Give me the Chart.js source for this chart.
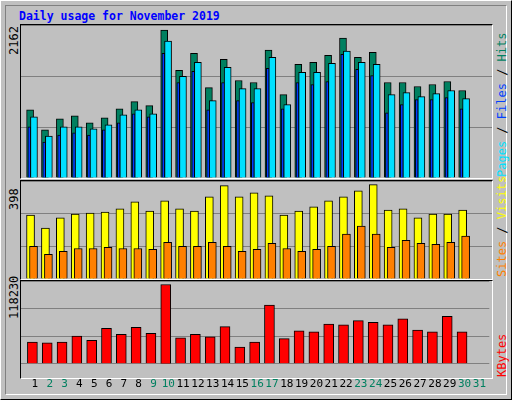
<!DOCTYPE html>
<html><head><meta charset="utf-8">
<script src="https://cdn.jsdelivr.net/npm/chart.js@4"></script>
<style>
body{margin:0;background:#fff}
#wrap{position:relative;width:510px;height:398px;background:#c0c0c0;border-top:1px solid #fff;border-left:1px solid #fff;border-right:1px solid #000;border-bottom:1px solid #000;font-family:"DejaVu Sans Mono",monospace;overflow:hidden}
#inner{position:absolute;left:4px;top:4px;width:500px;height:388px;border-right:1px solid #fff;border-bottom:1px solid #fff;border-top:1px solid #808080;border-left:1px solid #808080}
.panel{position:absolute;left:19px;width:471px;border-top:1px solid #000;border-left:1px solid #000;border-right:1px solid #fff;border-bottom:1px solid #fff}
canvas{position:absolute}
.rot{position:absolute;transform-origin:0 0;transform:rotate(-90deg);white-space:nowrap;font-size:12px}
#title{position:absolute;left:18px;top:8px;color:#0000ff;font-weight:bold;font-size:11.5px}
</style></head><body>
<div id="wrap"><div id="inner"></div>
<div id="title">Daily usage for November 2019</div>
<div class="panel" style="top:23px;height:153px"><canvas id="c1"></canvas></div>
<div class="panel" style="top:179px;height:98px"><canvas id="c2"></canvas></div>
<div class="panel" style="top:279px;height:97px"></div>
<canvas id="c3" style="left:20px;top:280px"></canvas>
<div class="rot" style="left:6px;top:54px">2162</div>
<div class="rot" style="left:6px;top:209px">398</div>
<div class="rot" style="left:6px;top:318px">118230</div>
<div class="rot" style="left:494px;top:176px"><span style="color:#00e0ff">Pages</span> / <span style="color:#0040ff">Files</span> / <span style="color:#008060">Hits</span></div>
<div class="rot" style="left:494px;top:276px"><span style="color:#ff8000">Sites</span> / <span style="color:#ffff00">Visits</span></div>
<div class="rot" style="left:494px;top:376px"><span style="color:#ff0000">KBytes</span></div>
</div>
<script>
const days = Array.from({length: 31}, (_, i) => i + 1);
const weekend = [2, 3, 9, 10, 16, 17, 23, 24, 30, 31];
const hits = [965,680,836,879,779,851,979,1079,1022,2091,1521,1763,1278,1677,1378,1350,1806,1178,1606,1635,1734,1977,1706,1777,1350,1350,1293,1321,1364,1236];
const files = [865,594,722,722,694,751,893,965,908,1934,1435,1635,1093,1563,1264,1264,1706,1036,1492,1492,1620,1792,1635,1606,1178,1207,1150,1193,1236,1121];
const pages = [722,508,608,637,608,680,779,908,865,1763,1350,1506,965,1350,1093,1064,1549,979,1350,1321,1364,1749,1535,1449,922,1036,1107,1107,1136,979];
const visits = [260,207,248,264,268,272,285,313,276,317,285,276,334,379,334,350,338,260,276,293,317,334,358,383,280,285,248,264,264,280];
const sites = [133,100,112,124,124,129,124,124,120,149,133,133,149,133,112,120,145,124,112,120,133,182,215,182,129,157,145,141,149,174];
const kbytes = [31084,29857,31084,39673,33538,50716,42127,51943,43354,113293,37219,42127,38446,53170,23722,31084,83845,35992,47035,45808,56851,55624,61759,59305,55624,64213,48262,45808,67894,45808];

const pts = (arr, off) => arr.map((v, i) => ({x: i + 1 + off, y: v}));
const ds = (label, arr, off, w, color, order) => ({
  label, data: pts(arr, off), backgroundColor: color, borderColor: '#000',
  borderWidth: 1, barThickness: w, grouped: false, order
});

function panel(id, w, h, datasets, max, showX) {
  const cv = document.getElementById(id);
  cv.width = w; cv.height = h; cv.style.width = w + 'px'; cv.style.height = h + 'px';
  new Chart(cv, {
    type: 'bar',
    data: {datasets},
    options: {
      responsive: false, animation: false, devicePixelRatio: 1,
      layout: {padding: 0},
      plugins: {legend: {display: false}, tooltip: {enabled: false}},
      scales: {
        x: {type: 'linear', min: 0.06, max: 31.67, offset: false, display: showX,
            afterBuildTicks: a => { a.ticks = days.map(d => ({value: d})); },
            grid: {display: false, offset: false}, border: {display: false},
            ticks: {autoSkip: false, maxRotation: 0, padding: 6,
              font: {family: 'DejaVu Sans Mono', size: 11},
              color: c => weekend.includes(c.tick.value) ? '#008060' : '#000'}},
        y: {min: 0, max, border: {display: false},
            grid: {color: '#808080', drawTicks: false},
            ticks: {display: false, stepSize: max / 3}}
      }
    }
  });
}

panel('c1', 471, 153, [
  ds('Files', files, -0.07, 7, '#00e0ff', 1),
  ds('Pages', pages, -0.38, 3, '#0040ff', 2),
  ds('Hits', hits, -0.33, 7, '#008060', 3)
], 2162, false);
panel('c2', 471, 98, [
  ds('Sites', sites, -0.1, 8, '#ff8000', 1),
  ds('Visits', visits, -0.3, 8, '#ffff00', 2)
], 398, false);
panel('c3', 471, 116, [
  ds('KBytes', kbytes, -0.17, 10, '#ff0000', 1)
], 118230, true);
</script>
</body></html>
